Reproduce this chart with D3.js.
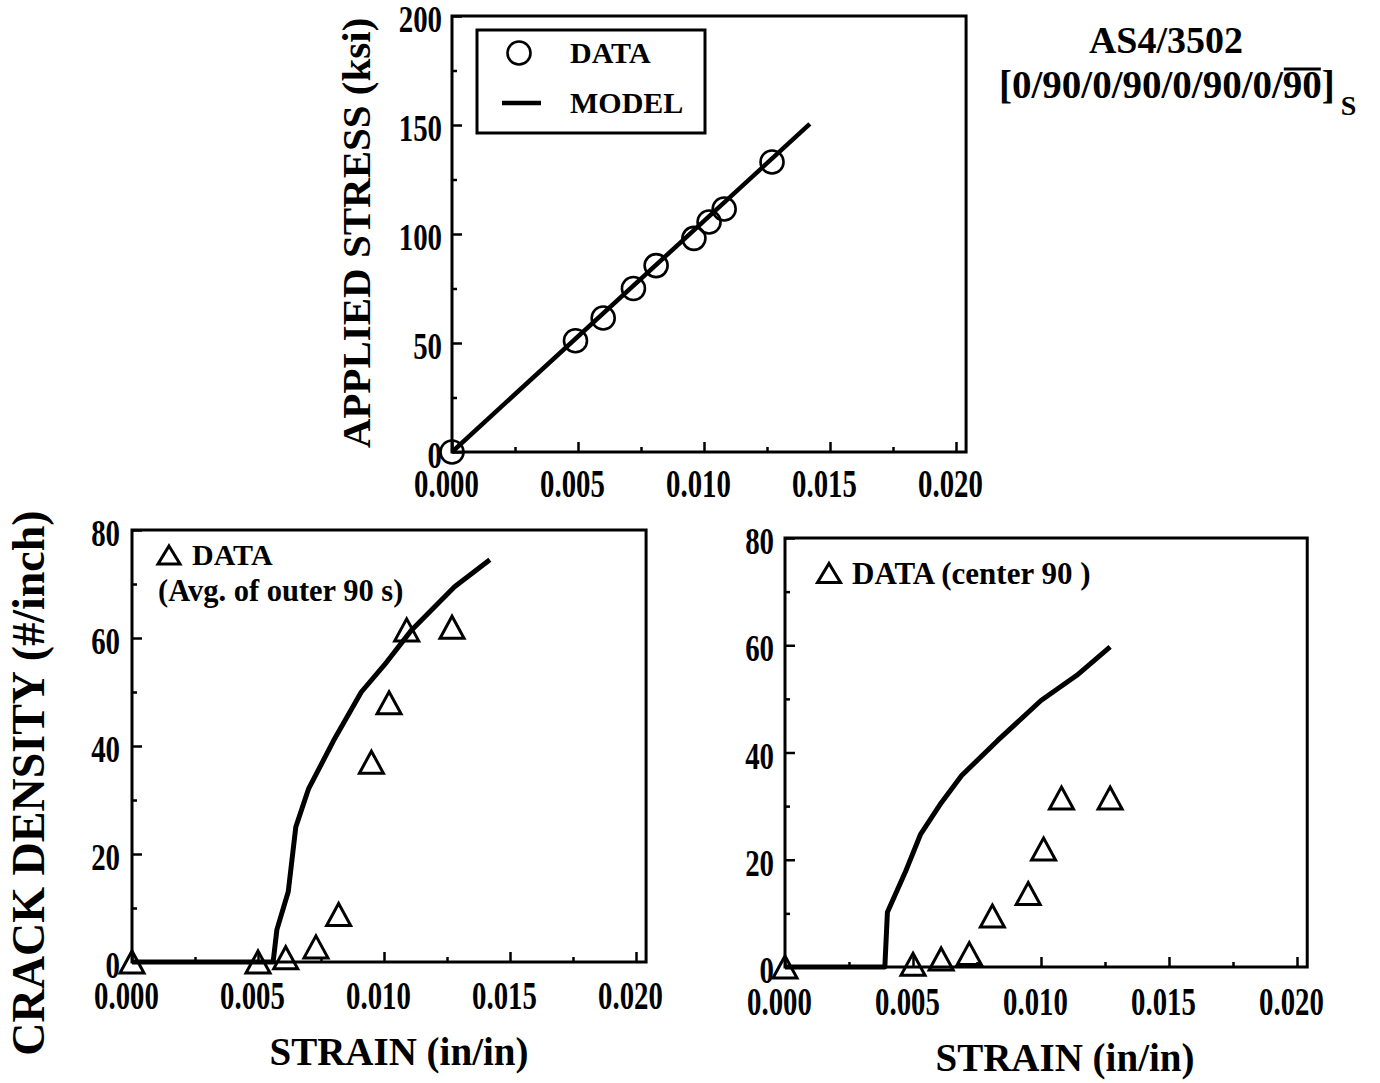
<!DOCTYPE html>
<html>
<head>
<meta charset="utf-8">
<script src="https://cdn.jsdelivr.net/npm/d3@7"></script>
<style>
  body { margin: 0; background: #fff; }
  svg text { font-family: "Liberation Serif", "Times New Roman", serif; font-weight: bold; fill: #000; }
</style>
</head>
<body>
<div id="chart-area"></div>
<script>
// ---- data ----
const strainTicks = [0, 0.005, 0.010, 0.015, 0.020];
const strainMinor = [0.0025, 0.0075, 0.0125, 0.0175];

// top: applied stress vs strain
const stressTicks = [0, 50, 100, 150, 200];
const stressMinor = [25, 75, 125, 175];
const stressDataStrain = [0, 0.0049, 0.0060, 0.0072, 0.0081, 0.0096, 0.0102, 0.0108, 0.0127];
const stressData = [0, 51, 61.5, 75, 85.5, 98, 105.5, 111.5, 133];
const stressModelStrain = [0, 0.0142];
const stressModel = [0, 150.5];

// bottom: crack density
const crackTicks = [0, 20, 40, 60, 80];
const crackMinor = [10, 30, 50, 70];
const outerStrain = [0, 0.0050, 0.0061, 0.0073, 0.0082, 0.0095, 0.0102, 0.0109, 0.0127];
const outerCracks = [0, 0, 0.8, 2.8, 8.8, 37, 48, 61.5, 62];
const outerModelStrain = [0, 0.0056, 0.00575, 0.0062, 0.0065, 0.0070, 0.0080, 0.0091, 0.0101, 0.0111, 0.0128, 0.0142];
const outerModel = [0, 0, 6, 13, 25, 32, 41, 50, 55.5, 61.5, 69.5, 74.5];

const centerStrain = [0, 0.0050, 0.0061, 0.0072, 0.0081, 0.0095, 0.0101, 0.0108, 0.0127];
const centerCracks = [0, 0.5, 1.5, 2.5, 9.5, 13.7, 22, 31.5, 31.5];
const centerModelStrain = [0, 0.0039, 0.0040, 0.0047, 0.0053, 0.0061, 0.0069, 0.0083, 0.0100, 0.0114, 0.0127];
const centerModel = [0, 0, 10.2, 17.7, 24.8, 30.6, 35.7, 42.2, 49.7, 54.4, 59.7];

const svg = d3.select('#chart-area')
    .append('svg')
    .attr('width', 1380)
    .attr('height', 1083);

const zip = (xs, ys) => xs.map((v, i) => ({ x: v, y: ys[i] }));

function panel(o) {
    const x = d3.scaleLinear().domain([0, 0.02]).range([o.left, o.right]);
    const y = d3.scaleLinear().domain([0, o.yMax]).range([o.bottom, o.top]);
    const g = svg.append('g');

    // frame
    g.append('rect')
        .attr('x', x(0))
        .attr('y', y(o.yMax))
        .attr('width', x(0.0204) - x(0))
        .attr('height', y(0) - y(o.yMax))
        .attr('fill', 'none')
        .attr('stroke', '#000')
        .attr('stroke-width', 3);

    // x axis, ticks pointing in
    const xa = g.append('g')
        .attr('transform', `translate(0,${y(0)})`)
        .call(d3.axisBottom(x).tickValues(strainTicks).tickSize(-10).tickPadding(o.xPad).tickFormat(d3.format('.3f')));
    g.append('g')
        .attr('transform', `translate(0,${y(0)})`)
        .call(d3.axisBottom(x).tickValues(strainMinor).tickSize(-5).tickFormat(''))
        .call(a => a.select('.domain').remove());

    const ya = g.append('g')
        .attr('transform', `translate(${x(0)},0)`)
        .call(d3.axisLeft(y).tickValues(o.yTicks).tickSize(-10).tickPadding(12));
    g.append('g')
        .attr('transform', `translate(${x(0)},0)`)
        .call(d3.axisLeft(y).tickValues(o.yMinor).tickSize(-5).tickFormat(''))
        .call(a => a.select('.domain').remove());

    [xa, ya].forEach(a => a.select('.domain').remove());
    g.selectAll('.tick line').attr('stroke', '#000').attr('stroke-width', 2.5);
    xa.selectAll('text')
        .style('font-size', '40px')
        .attr('transform', 'translate(-6,0) scale(0.72,1)');
    ya.selectAll('text')
        .style('font-size', '37px')
        .attr('x', -o.yPad / 0.78)
        .attr('dy', '0.42em')
        .attr('transform', 'scale(0.78,1)');

    // model curve
    const line = d3.line().x(d => x(d.x)).y(d => y(d.y));
    g.append('path')
        .datum(zip(o.modelX, o.modelY))
        .attr('d', line)
        .attr('fill', 'none')
        .attr('stroke', '#000')
        .attr('stroke-width', o.lineW)
        .attr('stroke-linejoin', 'round');

    // data markers
    const pts = zip(o.dataX, o.dataY);
    if (o.marker === 'circle') {
        g.selectAll('.pt').data(pts).enter().append('circle')
            .attr('cx', d => x(d.x))
            .attr('cy', d => y(d.y))
            .attr('r', 11.5)
            .attr('fill', 'none')
            .attr('stroke', '#000')
            .attr('stroke-width', 2.6);
    } else {
        g.selectAll('.pt').data(pts).enter().append('path')
            .attr('d', 'M0,-11L12,11L-12,11Z')
            .attr('transform', d => `translate(${x(d.x)},${y(d.y)})`)
            .attr('fill', 'none')
            .attr('stroke', '#000')
            .attr('stroke-width', 3)
            .attr('stroke-linejoin', 'miter');
    }
    return { x, y, g };
}

// ---- top panel ----
const stressPanel = panel({
    left: 452, right: 956, top: 16, bottom: 452,
    yMax: 200, yTicks: stressTicks, yMinor: stressMinor, yPad: 10, xPad: 17,
    modelX: stressModelStrain, modelY: stressModel, lineW: 4.5,
    dataX: stressDataStrain, dataY: stressData, marker: 'circle'
});

svg.append('text')
    .attr('transform', 'translate(370,233) rotate(-90)')
    .attr('text-anchor', 'middle')
    .style('font-size', '41px')
    .text('APPLIED STRESS (ksi)');

// legend box
const lg = svg.append('g');
lg.append('rect').attr('x', 477).attr('y', 30).attr('width', 228).attr('height', 103)
    .attr('fill', '#fff').attr('stroke', '#000').attr('stroke-width', 3);
lg.append('circle').attr('cx', 519).attr('cy', 53).attr('r', 11.5)
    .attr('fill', 'none').attr('stroke', '#000').attr('stroke-width', 2.6);
lg.append('line').attr('x1', 502).attr('x2', 541).attr('y1', 103).attr('y2', 103)
    .attr('stroke', '#000').attr('stroke-width', 4.5);
lg.append('text').attr('x', 570).attr('y', 63).style('font-size', '30px').text('DATA');
lg.append('text').attr('x', 570).attr('y', 113).style('font-size', '30px').text('MODEL');

// title
svg.append('text')
    .attr('x', 1166).attr('y', 53)
    .attr('text-anchor', 'middle')
    .style('font-size', '38px')
    .text('AS4/3502');
const t2 = svg.append('text')
    .attr('x', 999).attr('y', 98)
    .style('font-size', '39px');
t2.append('tspan').text('[0/90/0/90/0/90/0/');
t2.append('tspan').text('90');
t2.append('tspan').text(']');
t2.append('tspan').attr('dx', 6).attr('dy', 17).style('font-size', '28px').text('S');
{
    const n = t2.node();
    const start = '[0/90/0/90/0/90/0/'.length;
    const x0 = n.getStartPositionOfChar(start).x;
    const x1 = n.getEndPositionOfChar(start + 1).x;
    svg.append('line')
        .attr('x1', x0 + 1).attr('x2', x1 - 1)
        .attr('y1', 69).attr('y2', 69)
        .attr('stroke', '#000').attr('stroke-width', 3);
}

// ---- bottom-left panel ----
const outerPanel = panel({
    left: 132, right: 636, top: 530, bottom: 962,
    yMax: 80, yTicks: crackTicks, yMinor: crackMinor, yPad: 12, xPad: 19,
    modelX: outerModelStrain, modelY: outerModel, lineW: 5,
    dataX: outerStrain, dataY: outerCracks, marker: 'triangle'
});
svg.append('path').attr('d', 'M0,-9L11,9L-11,9Z')
    .attr('transform', 'translate(169,555)')
    .attr('fill', 'none').attr('stroke', '#000').attr('stroke-width', 3);
svg.append('text').attr('x', 192).attr('y', 565).style('font-size', '30px').text('DATA');
svg.append('text').attr('x', 158).attr('y', 601).style('font-size', '30.5px').text('(Avg. of outer 90 s)');

svg.append('text')
    .attr('transform', 'translate(44,783) rotate(-90)')
    .attr('text-anchor', 'middle')
    .style('font-size', '46px')
    .text('CRACK DENSITY (#/inch)');
svg.append('text')
    .attr('x', 399).attr('y', 1065)
    .attr('text-anchor', 'middle')
    .style('font-size', '39px')
    .text('STRAIN (in/in)');

// ---- bottom-right panel ----
const centerPanel = panel({
    left: 785, right: 1297, top: 538, bottom: 967,
    yMax: 80, yTicks: crackTicks, yMinor: crackMinor, yPad: 11, xPad: 20,
    modelX: centerModelStrain, modelY: centerModel, lineW: 5,
    dataX: centerStrain, dataY: centerCracks, marker: 'triangle'
});
svg.append('path').attr('d', 'M0,-9.5L11.5,9.5L-11.5,9.5Z')
    .attr('transform', 'translate(829,573)')
    .attr('fill', 'none').attr('stroke', '#000').attr('stroke-width', 3);
svg.append('text').attr('x', 852).attr('y', 584).style('font-size', '31px').text('DATA (center 90 )');
svg.append('text')
    .attr('x', 1065).attr('y', 1071)
    .attr('text-anchor', 'middle')
    .style('font-size', '39px')
    .text('STRAIN (in/in)');
</script>
</body>
</html>
